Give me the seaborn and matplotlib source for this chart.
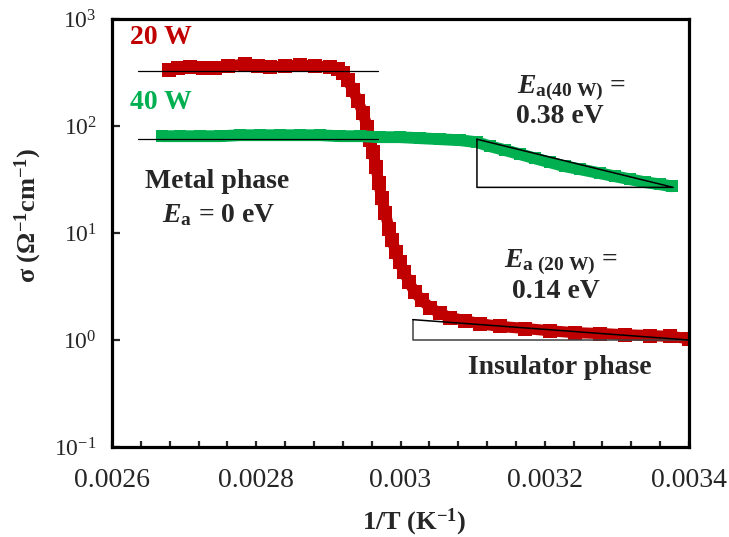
import matplotlib
matplotlib.use('Agg')
import matplotlib.pyplot as plt
import seaborn as sns
from matplotlib.ticker import MultipleLocator, NullLocator

# 1. data: 1/T (K^-1) vs sigma (S/cm)
inv_t_20w = [0.002679, 0.002692, 0.002708, 0.002726, 0.002743, 0.002761, 0.002784,
             0.002802, 0.002819, 0.002840, 0.002861, 0.002881, 0.002902, 0.002913,
             0.002920, 0.002927, 0.002934, 0.002941, 0.002948, 0.002954, 0.002958,
             0.002962, 0.002966, 0.002970, 0.002974, 0.002979, 0.002984, 0.002988,
             0.002994, 0.002999, 0.003005, 0.003012, 0.003020, 0.003030, 0.003041,
             0.003055, 0.003069, 0.003089, 0.003110, 0.003138, 0.003173, 0.003207,
             0.003242, 0.003277, 0.003311, 0.003346, 0.003374, 0.003400]
sigma_20w = [333, 348, 355, 348, 348, 363, 379,
             363, 355, 363, 371, 363, 355, 340,
             312, 268, 216, 171, 132, 97.4, 73.6,
             56.9, 41.1, 29.1, 21.1, 15.3, 11.0, 8.53,
             6.58, 5.31, 4.28, 3.45, 2.78, 2.34, 2.01,
             1.77, 1.62, 1.52, 1.42, 1.34, 1.28, 1.22,
             1.17, 1.15, 1.12, 1.10, 1.08, 1.03]

inv_t_40w = [0.002669, 0.002694, 0.002722, 0.002750, 0.002777, 0.002805, 0.002833,
             0.002861, 0.002888, 0.002916, 0.002944, 0.002972, 0.002999, 0.003027,
             0.003055, 0.003083, 0.003106, 0.003124, 0.003145, 0.003166, 0.003186,
             0.003207, 0.003228, 0.003249, 0.003277, 0.003297, 0.003318, 0.003339,
             0.003360, 0.003376]
sigma_40w = [80.3, 80.3, 80.3, 80.3, 82.0, 82.0, 82.0,
             82.0, 82.0, 80.3, 80.3, 78.6, 78.6, 76.9,
             75.2, 73.6, 70.5, 64.7, 59.4, 54.4, 49.9,
             45.8, 42.0, 39.4, 36.1, 33.9, 31.8, 29.8,
             28.5, 27.3]

# guide lines (metal-phase levels, activation-energy triangles)
metal_fit_x = [0.002636, 0.002969]
metal_fit_20w = [328, 328]
metal_fit_40w = [76.4, 76.4]
tri_40w_x = [0.003106, 0.003378]
tri_40w_y = [75.2, 26.7]
tri_20w_x = [0.003017, 0.003400]
tri_20w_y = [1.55, 1.0]

xticks = [0.0026, 0.0028, 0.003, 0.0032, 0.0034]
xtick_labels = ['0.0026', '0.0028', '0.003', '0.0032', '0.0034']
yticks = [0.1, 1, 10, 100, 1000]
ytick_labels = [r'$10^{-1}$', r'$10^{0}$', r'$10^{1}$', r'$10^{2}$', r'$10^{3}$']

RED = '#C00000'
GREEN = '#00B050'

# 2. style
sns.set_style('ticks')
plt.rcParams['font.family'] = ['Liberation Serif', 'DejaVu Serif']
plt.rcParams['mathtext.fontset'] = 'custom'
plt.rcParams['mathtext.rm'] = 'Liberation Serif'
plt.rcParams['mathtext.it'] = 'Liberation Serif:italic:bold'
plt.rcParams['mathtext.bf'] = 'Liberation Serif:bold'

fig = plt.figure(figsize=(7.29, 5.37), dpi=100)
ax = fig.add_axes([112 / 729, 1 - 447 / 537, 577 / 729, 428 / 537])

# 3. curves
sns.lineplot(x=inv_t_20w, y=sigma_20w, ax=ax, color=RED, marker='s', markersize=9.5,
             markeredgewidth=0, linewidth=8, sort=False, estimator=None)
sns.lineplot(x=inv_t_40w, y=sigma_40w, ax=ax, color=GREEN, marker='s', markersize=9,
             markeredgewidth=0, linewidth=8.5, sort=False, estimator=None)

ax.plot(metal_fit_x, metal_fit_20w, color='black', lw=0.9)
ax.plot(metal_fit_x, metal_fit_40w, color='black', lw=0.9)
ax.plot([tri_40w_x[0], tri_40w_x[0], tri_40w_x[1], tri_40w_x[0]],
        [tri_40w_y[0], tri_40w_y[1], tri_40w_y[1], tri_40w_y[0]], color='black', lw=1.1)
ax.plot([tri_20w_x[0], tri_20w_x[0], tri_20w_x[1]],
        [tri_20w_y[0], tri_20w_y[1], tri_20w_y[1]], color='#404040', lw=1.1)
ax.plot(tri_20w_x, tri_20w_y, color='black', lw=1.1)

# 4. axes
ax.set_yscale('log')
ax.set_xlim(0.0026, 0.0034)
ax.set_ylim(0.1, 1000)
ax.set_xticks(xticks)
ax.set_xticklabels(xtick_labels)
ax.xaxis.set_minor_locator(MultipleLocator(0.00004))
ax.set_yticks(yticks)
ax.set_yticklabels(ytick_labels)
ax.yaxis.set_minor_locator(NullLocator())
ax.tick_params(axis='x', which='both', direction='in', length=4, width=1.6,
               labelsize=20, pad=15, top=False)
ax.tick_params(axis='y', which='major', direction='in', length=6, width=1.6,
               labelsize=17, pad=11, right=False)
for sp in ax.spines.values():
    sp.set_linewidth(2.3)
    sp.set_color('black')

ax.set_xlabel(r'1/T (K$^{\mathbf{-1}}$)', fontsize=19, fontweight='bold')
ax.xaxis.set_label_coords((414 - 112) / 577, (447 - 507) / 428)
ax.set_ylabel(r'σ (Ω$^{\mathbf{-1}}$cm$^{\mathbf{-1}}$)', fontsize=19, fontweight='bold')
ax.yaxis.set_label_coords((44 - 112) / 577, (447 - 215) / 428)

# 5. annotations
bold = dict(transform=ax.transAxes, fontweight='bold', fontsize=20, va='center')
ax.text(0.031, 0.956, '20 W', color=RED, ha='left', **bold)
ax.text(0.031, 0.804, '40 W', color=GREEN, ha='left', **bold)
ax.text(0.182, 0.621, 'Metal phase', ha='center', **bold)
ax.text(0.185, 0.542, r'$E_{\mathbf{a}}$ = 0 eV', ha='center', **bold)
ax.text(0.797, 0.839, r'$E_{\mathbf{a(40\ W)}}$ =', ha='center', **bold)
ax.text(0.776, 0.773, '0.38 eV', ha='center', **bold)
ax.text(0.778, 0.432, r'$E_{\mathbf{a\ (20\ W)}}$ =', ha='center', **bold)
ax.text(0.770, 0.364, '0.14 eV', ha='center', **bold)
ax.text(0.776, 0.185, 'Insulator phase', ha='center', **bold)

plt.savefig('out.png', dpi=100)
